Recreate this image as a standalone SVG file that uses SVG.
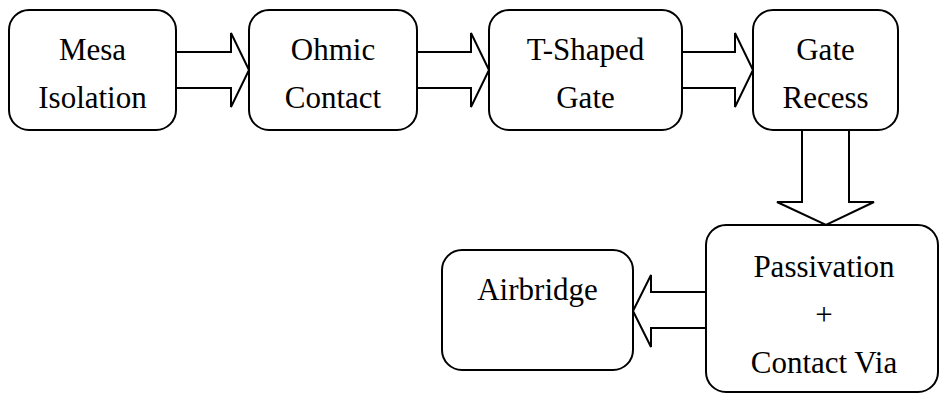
<svg xmlns="http://www.w3.org/2000/svg" width="940" height="394" viewBox="0 0 940 394">
<style>
.box{fill:#fff;stroke:#000;stroke-width:2}
.arr{fill:#fff;stroke:#000;stroke-width:2;stroke-linejoin:miter}
text{font-family:"Liberation Serif","Times New Roman",serif;font-size:31px;fill:#000;text-anchor:middle}
</style>
<rect width="940" height="394" fill="#fff"/>
<g id="connectors">
<polygon class="arr" points="176,52 231,52 231,33 249,70 231,107 231,88 176,88"/>
<polygon class="arr" points="417,52 471,52 471,33 489,70 471,107 471,88 417,88"/>
<polygon class="arr" points="682,52 735,52 735,33 753,70 735,107 735,88 682,88"/>
<polygon class="arr" points="802,130 802,202 777,202 826,225 874,202 849,202 849,130"/>
<polygon class="arr" points="706,292 651,292 651,275 633,311 651,347 651,328 706,328"/>
</g>
<g id="mesa">
<rect class="box" x="9" y="10" width="167" height="120" rx="20"/>
<text x="92.5" y="60">Mesa</text>
<text x="92.5" y="108">Isolation</text>
</g>
<g id="ohmic">
<rect class="box" x="249" y="10" width="168" height="120" rx="20"/>
<text x="333" y="60">Ohmic</text>
<text x="333" y="108">Contact</text>
</g>
<g id="tgate">
<rect class="box" x="489" y="10" width="193" height="120" rx="20"/>
<text x="585.5" y="60">T-Shaped</text>
<text x="585.5" y="108">Gate</text>
</g>
<g id="recess">
<rect class="box" x="753" y="10" width="145" height="120" rx="20"/>
<text x="825.5" y="60">Gate</text>
<text x="825.5" y="108">Recess</text>
</g>
<g id="passivation">
<rect class="box" x="706" y="225" width="232" height="167" rx="20"/>
<text x="824" y="277">Passivation</text>
<text x="824" y="325">+</text>
<text x="824" y="373">Contact Via</text>
</g>
<g id="airbridge">
<rect class="box" x="442" y="250" width="191" height="120" rx="20"/>
<text x="537.5" y="300">Airbridge</text>
</g>
</svg>
